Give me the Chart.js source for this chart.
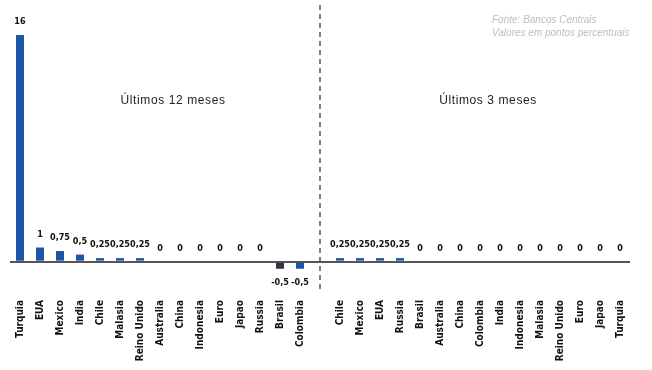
<!DOCTYPE html>
<html>
<head>
<meta charset="utf-8">
<script src="https://cdn.jsdelivr.net/npm/chart.js@4"></script>
<style>
  html,body{margin:0;padding:0;background:#fff;}
  #wrap{width:652px;height:370px;position:relative;}
</style>
</head>
<body>
<div id="wrap"><canvas id="juros" width="652" height="370"></canvas></div>
<script>
// Dados: variação de juros (pontos percentuais)
const paises12 = ['Turquia','EUA','Mexico','India','Chile','Malasia','Reino Unido','Australia','China','Indonesia','Euro','Japao','Russia','Brasil','Colombia'];
const valores12 = [16, 1, 0.75, 0.5, 0.25, 0.25, 0.25, 0, 0, 0, 0, 0, 0, -0.5, -0.5];
const paises3 = ['Chile','Mexico','EUA','Russia','Brasil','Australia','China','Colombia','India','Indonesia','Malasia','Reino Unido','Euro','Japao','Turquia'];
const valores3 = [0.25, 0.25, 0.25, 0.25, 0, 0, 0, 0, 0, 0, 0, 0, 0, 0, 0];
const titulos = ['Últimos 12 meses', 'Últimos 3 meses'];
const fonte = ['Fonte: Bancos Centrais', 'Valores em pontos percentuais'];

const azul = '#1d56a6';
const cinzaEscuro = '#2c3646';

// uma categoria vazia separa os dois períodos
const labels = paises12.concat([''], paises3);
const valores = valores12.concat([null], valores3);
const cores = labels.map((p, i) => (i < paises12.length && p === 'Brasil') ? cinzaEscuro : azul);

const fmt = v => String(v).replace('.', ',');
const narrow = '"Liberation Sans Narrow", "DejaVu Sans Condensed", Arial, sans-serif';

const extras = {
  id: 'extras',
  afterDatasetsDraw(chart){
    const {ctx, chartArea, scales} = chart;
    const meta = chart.getDatasetMeta(0);
    const zeroY = scales.y.getPixelForValue(0);
    ctx.save();
    // rótulos de valor
    ctx.font = 'bold 9px ' + narrow;
    ctx.fillStyle = '#111';
    ctx.textAlign = 'center';
    meta.data.forEach((bar, i) => {
      const v = valores[i];
      if (v === null) return;
      if (v < 0) {
        ctx.textBaseline = 'top';
        ctx.fillText(fmt(v), bar.x, bar.y + 9);
      } else {
        ctx.textBaseline = 'alphabetic';
        ctx.fillText(fmt(v), Math.round(bar.x), Math.min(bar.y, zeroY) - 11);
      }
    });
    // linha divisória tracejada
    const xDiv = scales.x.getPixelForValue(paises12.length);
    ctx.strokeStyle = '#3d5f8f';
    ctx.lineWidth = 1.5;
    ctx.setLineDash([5, 4]);
    ctx.beginPath();
    ctx.moveTo(xDiv, 5);
    ctx.lineTo(xDiv, chartArea.bottom);
    ctx.stroke();
    ctx.setLineDash([]);
    // títulos dos períodos
    ctx.font = '12px "Liberation Sans", Arial, sans-serif';
    ctx.letterSpacing = '0.6px';
    ctx.fillStyle = '#222';
    ctx.textBaseline = 'middle';
    const w = chartArea.right - chartArea.left;
    ctx.fillText(titulos[0], chartArea.left + w * 0.263, 101);
    ctx.fillText(titulos[1], chartArea.left + w * 0.771, 101);
    // fonte
    ctx.letterSpacing = '0px';
    ctx.font = 'italic 10px "Liberation Sans", Arial, sans-serif';
    ctx.fillStyle = '#bdbdbd';
    ctx.textAlign = 'left';
    ctx.fillText(fonte[0], 492, 20);
    ctx.fillText(fonte[1], 492, 33);
    ctx.restore();
  }
};

new Chart(document.getElementById('juros').getContext('2d'), {
  type: 'bar',
  data: {
    labels: labels,
    datasets: [{
      data: valores,
      backgroundColor: cores,
      barPercentage: 0.4,
      categoryPercentage: 1
    }]
  },
  options: {
    responsive: false,
    animation: false,
    layout: { padding: { left: 10, right: 22, top: 35, bottom: 0 } },
    plugins: { legend: { display: false }, tooltip: { enabled: false } },
    scales: {
      x: {
        grid: { display: false },
        border: { display: false },
        afterFit(s){ s.height = 80; },
        ticks: {
          autoSkip: false,
          minRotation: 90,
          maxRotation: 90,
          padding: 2,
          color: '#111',
          font: { family: narrow, size: 10, weight: 'bold' }
        }
      },
      y: {
        min: -2,
        max: 16,
        border: { display: false },
        ticks: { display: false, stepSize: 2 },
        grid: {
          drawTicks: false,
          lineWidth: 2,
          color: c => c.tick && c.tick.value === 0 ? '#555' : 'rgba(0,0,0,0)'
        }
      }
    }
  },
  plugins: [extras]
});
</script>
</body>
</html>
